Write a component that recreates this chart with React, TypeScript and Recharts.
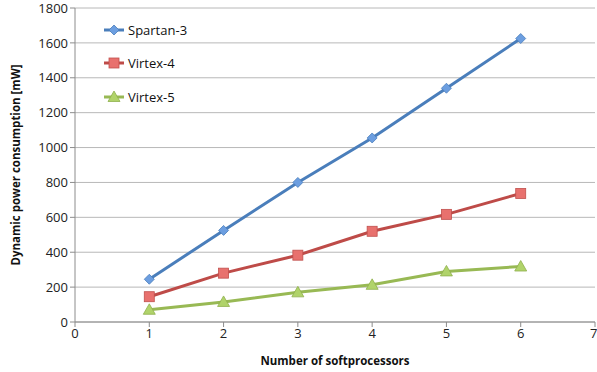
import React from "react";
import {
  LineChart,
  Line,
  XAxis,
  YAxis,
  CartesianGrid,
} from "recharts";

const processors = [1, 2, 3, 4, 5, 6];
const spartan3 = [245, 525, 800, 1055, 1340, 1625];
const virtex4 = [145, 280, 383, 520, 617, 737];
const virtex5 = [70, 115, 170, 213, 290, 318];

const xTicks = [0, 1, 2, 3, 4, 5, 6, 7];
const yTicks = [0, 200, 400, 600, 800, 1000, 1200, 1400, 1600, 1800];

const data = processors.map((n, i) => ({
  n,
  spartan3: spartan3[i],
  virtex4: virtex4[i],
  virtex5: virtex5[i],
}));

const FONT = "'Open Sans', 'DejaVu Sans', sans-serif";

const SERIES = [
  { key: "spartan3", name: "Spartan-3", line: "#4a7ebb", fill: "#6c9ee0", edge: "#4a7ebb", shape: "diamond" },
  { key: "virtex4", name: "Virtex-4", line: "#be4b48", fill: "#e8716e", edge: "#c0504d", shape: "square" },
  { key: "virtex5", name: "Virtex-5", line: "#98b954", fill: "#b0d36a", edge: "#8fb04c", shape: "triangle" },
];

function Marker({ cx, cy, shape, fill, edge }: any) {
  if (cx == null || cy == null) return null;
  if (shape === "diamond") {
    return (
      <path
        d={`M${cx},${cy - 5} L${cx + 5},${cy} L${cx},${cy + 5} L${cx - 5},${cy} Z`}
        fill={fill}
        stroke={edge}
        strokeWidth={0.8}
      />
    );
  }
  if (shape === "square") {
    return (
      <rect x={cx - 5} y={cy - 5} width={10} height={10} fill={fill} stroke={edge} strokeWidth={0.8} />
    );
  }
  return (
    <path
      d={`M${cx},${cy - 6} L${cx + 6},${cy + 4.5} L${cx - 6},${cy + 4.5} Z`}
      fill={fill}
      stroke={edge}
      strokeWidth={0.8}
    />
  );
}

// legend sits inside the plot area, top-left
function LegendBox() {
  return (
    <div
      style={{
        position: "absolute",
        left: 103,
        top: 13,
        fontFamily: FONT,
        fontSize: 13,
        color: "#111",
        pointerEvents: "none",
      }}
    >
      {SERIES.map((s) => (
        <div key={s.key} style={{ display: "flex", alignItems: "center", height: 33.5 }}>
          <svg width={22} height={14} style={{ marginRight: 3 }}>
            <line x1={1} y1={7} x2={21} y2={7} stroke={s.line} strokeWidth={3} />
            <Marker cx={11} cy={7} shape={s.shape} fill={s.fill} edge={s.edge} />
          </svg>
          <span>{s.name}</span>
        </div>
      ))}
    </div>
  );
}

export default function App() {
  return (
    <div style={{ position: "absolute", left: 0, top: 0, width: 597, height: 372, background: "#fff" }}>
      <LineChart
        width={597}
        height={372}
        data={data}
        margin={{ top: 8, right: 2, left: 15, bottom: 0 }}
      >
        <CartesianGrid vertical={false} stroke="#b8b8b8" strokeWidth={1} />
        <XAxis
          dataKey="n"
          type="number"
          domain={[0, 7]}
          ticks={xTicks}
          height={50}
          stroke="#8c8c8c"
          tickSize={5}
          tick={{ fill: "#222", fontSize: 13, fontFamily: FONT }}
          label={{
            value: "Number of softprocessors",
            position: "insideBottom",
            offset: 7,
            style: { fill: "#111", fontSize: 11.5, fontWeight: 700, fontFamily: FONT },
          }}
        />
        <YAxis
          type="number"
          domain={[0, 1800]}
          ticks={yTicks}
          width={60}
          stroke="#8c8c8c"
          tickSize={5}
          tick={{ fill: "#222", fontSize: 13, fontFamily: FONT }}
          label={{
            value: "Dynamic power consumption [mW]",
            angle: -90,
            position: "insideLeft",
            offset: 1,
            style: { textAnchor: "middle", fill: "#111", fontSize: 11.5, fontWeight: 700, fontFamily: FONT },
          }}
        />
        {SERIES.map((s) => (
          <Line
            key={s.key}
            dataKey={s.key}
            name={s.name}
            type="linear"
            stroke={s.line}
            strokeWidth={3}
            isAnimationActive={false}
            dot={(p: any) => (
              <Marker key={`${s.key}-${p.index}`} cx={p.cx} cy={p.cy} shape={s.shape} fill={s.fill} edge={s.edge} />
            )}
            activeDot={false}
          />
        ))}
      </LineChart>
      <LegendBox />
    </div>
  );
}
